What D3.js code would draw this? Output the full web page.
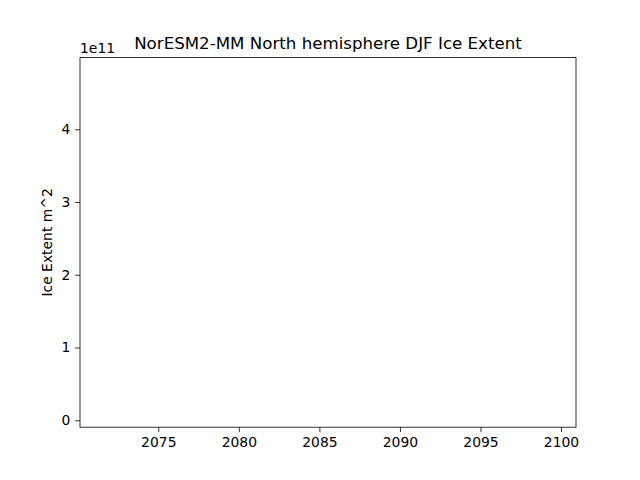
<!DOCTYPE html>
<html>
<head>
    <meta charset="utf-8">
    <style>
        body { margin: 0; background-color: #FFF; }
        text { font-family: "DejaVu Sans", sans-serif; fill: #000; }
    </style>
</head>
<body>
<div id="chartArea"></div>
<script src="https://d3js.org/d3.v7.min.js"></script>
<script>
    /* -----------------------------------
        data (the series is empty in the source: all values missing)
    ----------------------------------- */
    var years = [2071, 2072, 2073, 2074, 2075, 2076, 2077, 2078, 2079, 2080,
                 2081, 2082, 2083, 2084, 2085, 2086, 2087, 2088, 2089, 2090,
                 2091, 2092, 2093, 2094, 2095, 2096, 2097, 2098, 2099, 2100];
    var iceExtent = [null, null, null, null, null, null, null, null, null, null,
                     null, null, null, null, null, null, null, null, null, null,
                     null, null, null, null, null, null, null, null, null, null];
    var xTicks = [2075, 2080, 2085, 2090, 2095, 2100];
    var yTicks = [0, 1e11, 2e11, 3e11, 4e11];
    var xLimits = [2070.14, 2100.93];
    var yLimits = [-0.095e11, 4.985e11];

    /* -----------------------------------
        initialize
    ----------------------------------- */
    var width = 640, height = 480;
    var margin = {top: 57.6, right: 64, bottom: 52.8, left: 80},
        cWidth = width - margin.left - margin.right,
        cHeight = height - margin.top - margin.bottom;

    var svg = d3.select("#chartArea").append("svg")
        .attr("width", width)
        .attr("height", height);

    var g = svg.append("g")
        .attr("transform", "translate(" + margin.left + "," + margin.top + ")");

    var x = d3.scaleLinear().domain(xLimits).range([0, cWidth]);
    var y = d3.scaleLinear().domain(yLimits).range([cHeight, 0]);

    // the line (nothing defined, so nothing drawn)
    var line = d3.line()
        .defined(function(d) { return d[1] != null; })
        .x(function(d) { return x(d[0]); })
        .y(function(d) { return y(d[1]); });

    g.append("path")
        .datum(years.map(function(yr, i) { return [yr, iceExtent[i]]; }))
        .attr("fill", "none")
        .attr("stroke", "#1f77b4")
        .attr("stroke-width", 1.5)
        .attr("d", line);

    /* -----------------------------------
        axes
    ----------------------------------- */
    var xAxis = g.append("g")
        .attr("transform", "translate(0," + cHeight + ")")
        .call(d3.axisBottom(x).tickValues(xTicks).tickFormat(d3.format("d"))
            .tickSize(4.86).tickPadding(4.86).tickSizeOuter(0));

    var yAxis = g.append("g")
        .call(d3.axisLeft(y).tickValues(yTicks).tickFormat(function(d) { return d / 1e11; })
            .tickSize(4.86).tickPadding(4.86).tickSizeOuter(0));

    [xAxis, yAxis].forEach(function(a) {
        a.select(".domain").remove();
        a.selectAll("line").attr("stroke", "#000").attr("stroke-width", 0.8);
        a.selectAll("text").style("font-size", "13.9px").style("font-family", "DejaVu Sans");
    });

    // frame
    g.append("rect")
        .attr("width", cWidth)
        .attr("height", cHeight)
        .attr("fill", "none")
        .attr("stroke", "#000")
        .attr("stroke-width", 0.8);

    // offset text
    g.append("text")
        .attr("x", 0)
        .attr("y", -5)
        .style("font-size", "13.9px")
        .text("1e11");

    // title
    svg.append("text")
        .attr("x", margin.left + cWidth / 2)
        .attr("y", 49)
        .attr("text-anchor", "middle")
        .style("font-size", "16.67px")
        .text("NorESM2-MM North hemisphere DJF Ice Extent");

    // y label
    svg.append("text")
        .attr("transform", "translate(52," + (margin.top + cHeight / 2) + ") rotate(-90)")
        .attr("text-anchor", "middle")
        .style("font-size", "13.9px")
        .text("Ice Extent m^2");
</script>
</body>
</html>
